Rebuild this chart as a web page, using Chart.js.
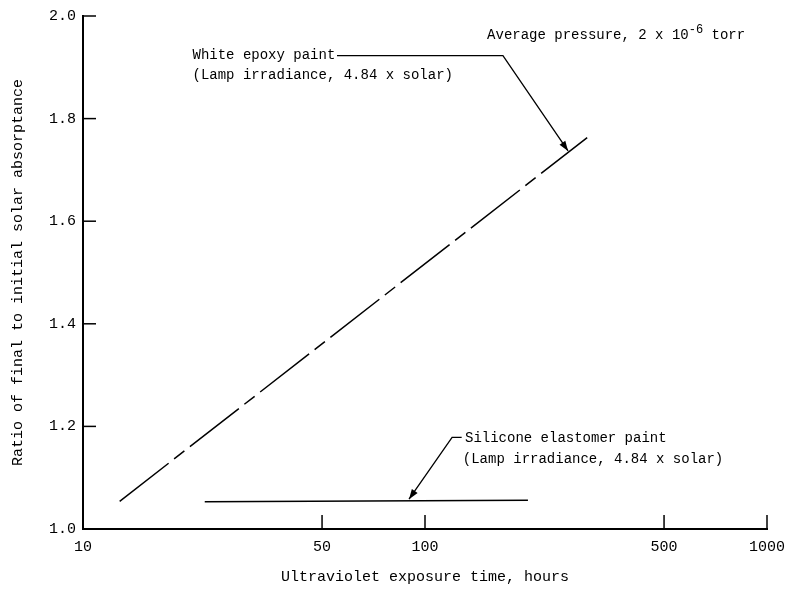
<!DOCTYPE html>
<html>
<head>
<meta charset="utf-8">
<script src="https://cdn.jsdelivr.net/npm/chart.js@4.4.1/dist/chart.umd.min.js"></script>
<style>
  html, body { margin: 0; padding: 0; background: #fff; }
  #wrap { width: 799px; height: 589px; }
</style>
</head>
<body>
<div id="wrap"><canvas id="myChart" width="799" height="589"></canvas></div>
<script>
// values
const xTicks = [10, 50, 100, 500, 1000];
const yTicks = [1.0, 1.2, 1.4, 1.6, 1.8, 2.0];

const epoxyHours = [12.8, 298];
const epoxyRatio = [1.054, 1.763];

const siliconeHours = [22.7, 200];
const siliconeRatio = [1.053, 1.056];

const FONT = '"Liberation Mono", "Courier New", monospace';

function toPoints(xs, ys) {
  return xs.map((x, i) => ({ x: x, y: ys[i] }));
}

// inward tick marks + annotations
const decorations = {
  id: 'decorations',
  afterDraw(chart) {
    const ctx = chart.ctx;
    const xs = chart.scales.x;
    const ys = chart.scales.y;
    const area = chart.chartArea;
    ctx.save();
    ctx.strokeStyle = '#000';
    ctx.lineWidth = 1.5;

    // y ticks point right, into the plot
    yTicks.forEach(v => {
      if (v === 1.0) return;
      const py = ys.getPixelForValue(v);
      ctx.beginPath();
      ctx.moveTo(area.left, py);
      ctx.lineTo(area.left + 13, py);
      ctx.stroke();
    });
    // x ticks point up
    xTicks.forEach(v => {
      if (v === 10) return;
      const px = xs.getPixelForValue(v);
      ctx.beginPath();
      ctx.moveTo(px, area.bottom);
      ctx.lineTo(px, area.bottom - 14);
      ctx.stroke();
    });

    const P = (x, y) => [xs.getPixelForValue(x), ys.getPixelForValue(y)];

    function arrow(pts) {
      ctx.lineWidth = 1.3;
      ctx.beginPath();
      ctx.moveTo(pts[0][0], pts[0][1]);
      for (let i = 1; i < pts.length; i++) ctx.lineTo(pts[i][0], pts[i][1]);
      ctx.stroke();
      const a = pts[pts.length - 2], b = pts[pts.length - 1];
      const ang = Math.atan2(b[1] - a[1], b[0] - a[0]);
      const len = 10, w = 3.5;
      ctx.beginPath();
      ctx.moveTo(b[0], b[1]);
      ctx.lineTo(b[0] - len * Math.cos(ang) + w * Math.sin(ang), b[1] - len * Math.sin(ang) - w * Math.cos(ang));
      ctx.lineTo(b[0] - len * Math.cos(ang) - w * Math.sin(ang), b[1] - len * Math.sin(ang) + w * Math.cos(ang));
      ctx.closePath();
      ctx.fillStyle = '#000';
      ctx.fill();
    }

    ctx.fillStyle = '#000';
    ctx.font = '14px ' + FONT;
    ctx.textBaseline = 'middle';
    ctx.textAlign = 'left';

    // white epoxy
    let p = P(20.9, 1.9227);
    ctx.fillText('White epoxy paint', p[0], p[1]);
    p = P(20.9, 1.885);
    ctx.fillText('(Lamp irradiance, 4.84 x solar)', p[0], p[1]);
    arrow([P(55.3, 1.9227), P(169, 1.9227), P(262, 1.737)]);

    // silicone
    p = P(130.9, 1.1767);
    ctx.fillText('Silicone elastomer paint', p[0], p[1]);
    p = P(129, 1.1358);
    ctx.fillText('(Lamp irradiance, 4.84 x solar)', p[0], p[1]);
    arrow([P(128, 1.1787), P(120, 1.1787), P(89.8, 1.058)]);

    // pressure note with superscript
    p = P(151.9, 1.9616);
    const base = 'Average pressure, 2 x 10';
    ctx.fillText(base, p[0], p[1]);
    let w = ctx.measureText(base).width;
    ctx.font = '12px ' + FONT;
    ctx.fillText('-6', p[0] + w, p[1] - 6);
    const w2 = ctx.measureText('-6').width;
    ctx.font = '14px ' + FONT;
    ctx.fillText(' torr', p[0] + w + w2, p[1]);

    ctx.restore();
  }
};

const ctx = document.getElementById('myChart').getContext('2d');
const myChart = new Chart(ctx, {
  type: 'scatter',
  data: {
    datasets: [
      {
        label: 'White epoxy paint',
        data: toPoints(epoxyHours, epoxyRatio),
        showLine: true,
        borderColor: '#000',
        borderWidth: 1.5,
        borderDash: [62, 7, 13, 7],
        pointRadius: 0,
      },
      {
        label: 'Silicone elastomer paint',
        data: toPoints(siliconeHours, siliconeRatio),
        showLine: true,
        borderColor: '#000',
        borderWidth: 1.5,
        pointRadius: 0,
      },
    ],
  },
  options: {
    responsive: false,
    animation: false,
    layout: {
      padding: { left: 0, right: 32, top: 15, bottom: 0 },
    },
    plugins: {
      legend: { display: false },
      tooltip: { enabled: false },
    },
    scales: {
      x: {
        type: 'logarithmic',
        min: 10,
        max: 1000,
        afterBuildTicks: function (scale) {
          scale.ticks = xTicks.map(v => ({ value: v }));
        },
        afterFit: function (scale) {
          scale.height = 60;
        },
        ticks: {
          autoSkip: false,
          maxRotation: 0,
          padding: 9,
          color: '#000',
          font: { family: FONT, size: 15 },
          callback: function (value) {
            return String(value);
          },
        },
        grid: {
          drawOnChartArea: false,
          drawTicks: false,
        },
        border: { color: '#000', width: 2 },
        title: {
          display: true,
          text: 'Ultraviolet exposure time, hours',
          color: '#000',
          font: { family: FONT, size: 15 },
          padding: { top: 0, bottom: 3 },
        },
      },
      y: {
        min: 1.0,
        max: 2.0,
        afterBuildTicks: function (scale) {
          scale.ticks = yTicks.map(v => ({ value: v }));
        },
        afterFit: function (scale) {
          scale.width = 83;
        },
        ticks: {
          padding: 7,
          color: '#000',
          font: { family: FONT, size: 15 },
          callback: function (value) {
            return value.toFixed(1);
          },
        },
        grid: {
          drawOnChartArea: false,
          drawTicks: false,
        },
        border: { color: '#000', width: 2 },
        title: {
          display: true,
          text: 'Ratio of final to initial solar absorptance',
          color: '#000',
          font: { family: FONT, size: 15 },
          padding: { top: 9, bottom: 0 },
        },
      },
    },
  },
  plugins: [decorations],
});
</script>
</body>
</html>
